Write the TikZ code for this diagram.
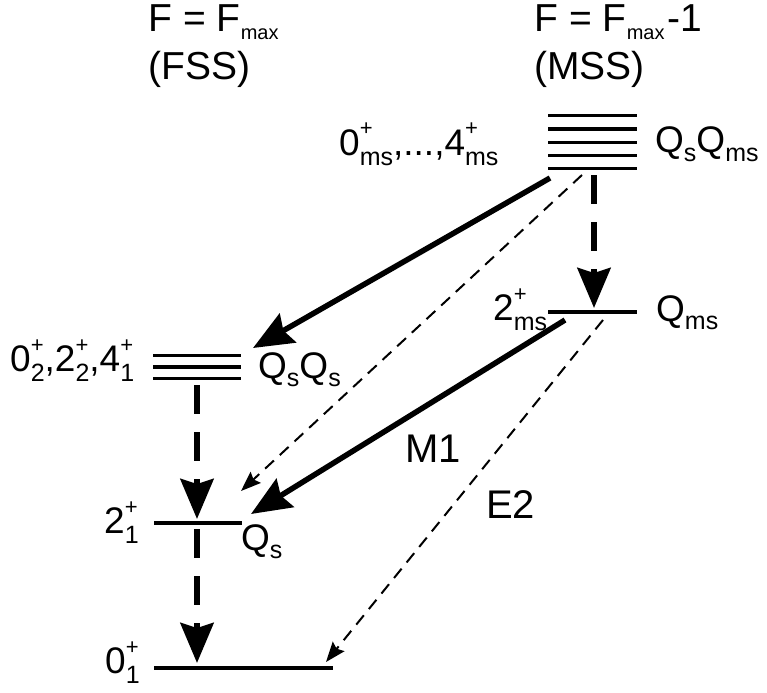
\documentclass[tikz,border=0pt]{standalone}
\usepackage{fontspec}
\setmainfont{Liberation Sans}
\usetikzlibrary{arrows.meta}
\newcommand{\lvlab}[3]{#1\rlap{\raisebox{19bp}{\fontsize{22bp}{22bp}\selectfont #2}}\raisebox{-10bp}{\fontsize{25bp}{25bp}\selectfont #3}}
\newcommand{\qsub}[2]{#1\raisebox{-8bp}{\fontsize{25bp}{25bp}\selectfont #2}}
\newcommand{\hsub}[2]{#1\raisebox{-8bp}{\fontsize{20bp}{20bp}\selectfont #2}}
\begin{document}
\begin{tikzpicture}[x=1bp,y=-1bp,
  level/.style={line width=3.5bp},
  thickdash/.style={line width=6bp, dash pattern=on 29bp off 18bp, -{Stealth[length=40bp,width=33bp,inset=5bp]}},
  solidarr/.style={line width=5.5bp, -{Stealth[length=40bp,width=33bp,inset=5bp]}},
  thindash/.style={line width=2bp, dash pattern=on 12bp off 8bp, -{Stealth[length=20bp,width=15bp,inset=3bp]}},
  lab/.style={anchor=base west, inner sep=0, font=\fontsize{37bp}{40bp}\selectfont},
  head/.style={anchor=base west, inner sep=0, font=\fontsize{39bp}{42bp}\selectfont},
  big/.style={anchor=base west, inner sep=0, font=\fontsize{40bp}{42bp}\selectfont}]
\useasboundingbox (0,0) rectangle (767,693);
% headers
\node[head] (h1) at (148.5,32) {F = \hsub{F}{max}};
\node[head] (h2) at (148,80) {(FSS)};
\node[head] (h3) at (534.5,32) {F = \hsub{F}{max}\kern3bp-1};
\node[head] (h4) at (534,80) {(MSS)};
% levels
\foreach \yy in {115.7,129,142.3,155.7,168.3} \draw[level] (548,\yy) -- (637,\yy);
\draw[level] (548,312) -- (637,312);
\foreach \yy in {355.5,367,378.5} \draw[level] (153,\yy) -- (241,\yy);
\draw[level] (154,523) -- (242,523);
\draw[level] (154,668) -- (333,668);
% labels
\node[lab] (lmss) at (339,155) {\lvlab{0}{+}{ms},...,\lvlab{4}{+}{ms}};
\node[lab] (rmss) at (655,153) {\qsub{Q}{s}\qsub{Q}{ms}};
\node[lab] (lms) at (493,320) {\lvlab{2}{+}{ms}};
\node[lab] (rms) at (656,321) {\qsub{Q}{ms}};
\node[lab] (lqq) at (10,371) {\lvlab{0}{+}{2},\lvlab{2}{+}{2},\lvlab{4}{+}{1}};
\node[lab] (rqq) at (258,378) {\qsub{Q}{s}\qsub{Q}{s}};
\node[lab] (l21) at (104,533) {\lvlab{2}{+}{1}};
\node[lab] (r21) at (241,550) {\qsub{Q}{s}};
\node[lab] (l01) at (105,673) {\lvlab{0}{+}{1}};
\node[big] (m1) at (405,462) {M1};
\node[big] (e2) at (486,518) {E2};
% connector ends
\coordinate (mssA) at (550,178);
\coordinate (qsqsT) at (253,348);
\coordinate (mssB) at (582,175);
\coordinate (twoT1) at (241,491);
\coordinate (msC) at (565,320);
\coordinate (twoT2) at (251,514);
\coordinate (msD) at (603,320);
\coordinate (zeroT) at (326,662);
\coordinate (mssV) at (594,175);
\coordinate (qmsT) at (594,308);
\coordinate (qsqsV) at (197,385);
\coordinate (twoV) at (197,519);
\coordinate (twoS) at (197,529);
\coordinate (zeroV) at (197,663);
% connectors
\draw[solidarr] (mssA) -- (qsqsT);
\draw[thindash] (mssB) -- (twoT1);
\draw[solidarr] (msC) -- (twoT2);
\draw[thindash] (msD) -- (zeroT);
\draw[thickdash] (mssV) -- (qmsT);
\draw[thickdash] (qsqsV) -- (twoV);
\draw[thickdash] (twoS) -- (zeroV);
\end{tikzpicture}
\end{document}
